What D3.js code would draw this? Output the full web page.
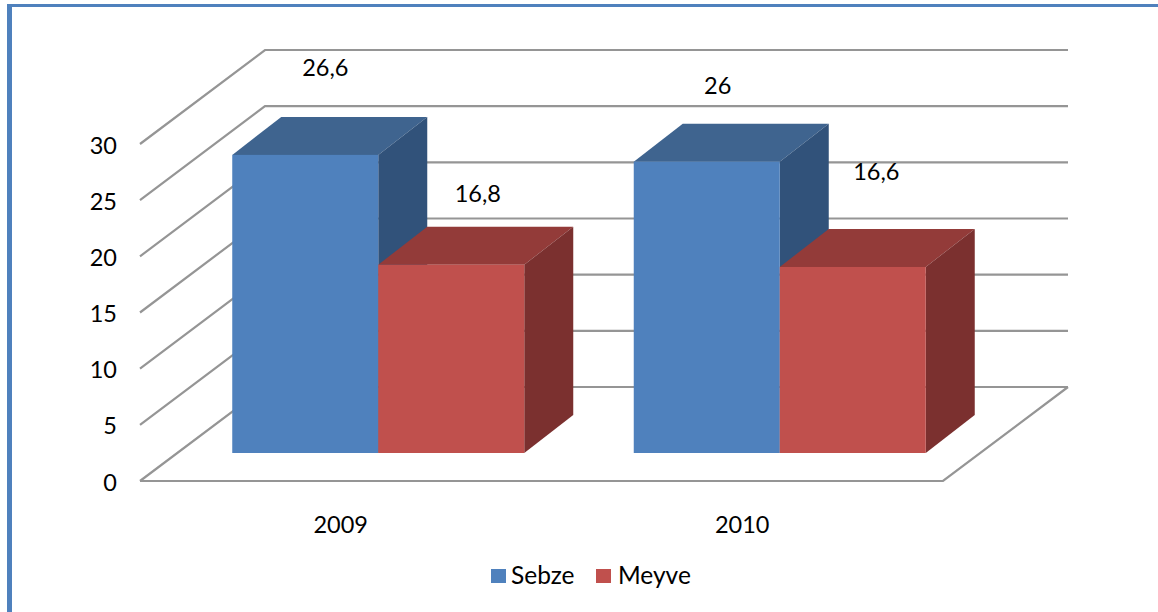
<!DOCTYPE html>
<html><head><meta charset="utf-8">
<script src="https://cdnjs.cloudflare.com/ajax/libs/d3/7.8.5/d3.min.js"></script>
<style>html,body{margin:0;padding:0;background:#fff}svg{display:block}text{font-family:Lato,"Open Sans",sans-serif;fill:#000}</style>
</head><body><div id="chart"></div>
<script>
const categories = ["2009", "2010"];
const seriesNames = ["Sebze", "Meyve"];
const sebze = [26.6, 26];
const meyve = [16.8, 16.6];
const valueLabels = [["26,6", "26"], ["16,8", "16,6"]];
const yTicks = [0, 5, 10, 15, 20, 25, 30];

const W = 1158, H = 612;
const svg = d3.select("#chart").append("svg").attr("width", W).attr("height", H);

const colors = {
  Sebze: {front: "#4F81BD", top: "#3F648F", side: "#31527A"},
  Meyve: {front: "#C0504D", top: "#933B39", side: "#7B302F"}
};

// outer frame (top and left rule)
svg.append("rect").attr("x", 7).attr("y", 4).attr("width", W - 7).attr("height", 3).attr("fill", "#4F81BD");
svg.append("rect").attr("x", 7).attr("y", 4).attr("width", 5).attr("height", H - 4).attr("fill", "#4F81BD");

// scales
const y = d3.scaleLinear().domain([0, 30]).range([481, 144]);
const yBar = d3.scaleLinear().domain([0, 30]).range([453, 116.8]);
const x = d3.scaleBand().domain(categories).range([140, 943]);
const wall = {dx: 125, dy: -94};      // front plane -> back wall
const baseDx = 37.5;                  // front plane -> bar front plane
const depth = {dx: 49, dy: -38};      // bar depth
const barW = 146;

// grid
const grid = svg.append("g").attr("fill", "none").attr("stroke", "#959595").attr("stroke-width", 2.2);
yTicks.forEach(t => {
  const p = d3.path();
  p.moveTo(x.range()[0], y(t));
  p.lineTo(x.range()[0] + wall.dx, y(t) + wall.dy);
  p.lineTo(x.range()[1] + wall.dx, y(t) + wall.dy);
  grid.append("path").attr("d", p.toString());
});
const floor = d3.path();
floor.moveTo(x.range()[0], y(0));
floor.lineTo(x.range()[1], y(0));
floor.lineTo(x.range()[1] + wall.dx, y(0) + wall.dy);
grid.append("path").attr("d", floor.toString());

// axis labels
svg.append("g").selectAll("text").data(yTicks).join("text")
  .attr("x", 117).attr("y", d => y(d) + 9.5)
  .attr("text-anchor", "end").attr("font-size", 23.5).text(d => d);
svg.append("g").selectAll("text").data(categories).join("text")
  .attr("x", d => x(d) + x.bandwidth() / 2).attr("y", 532.5)
  .attr("text-anchor", "middle").attr("font-size", 23.5).text(d => d);

// bars
const nudges = [[[20, -88], [11, -77]], [[26.5, -72], [23.5, -96]]];
const series = [sebze, meyve];
const bars = [];
categories.forEach((c, ci) => {
  series.forEach((vals, si) => bars.push({ci, si, c, v: vals[ci]}));
});
bars.forEach(b => {
  const col = colors[seriesNames[b.si]];
  const cx = x(b.c) + x.bandwidth() / 2 + baseDx;
  const x0 = cx + (b.si - 1) * barW;
  const x1 = x0 + barW;
  const yT = yBar(b.v);
  const yB = yBar(0);
  const g = svg.append("g");
  g.append("polygon").attr("fill", col.top).attr("points", [
    [x0, yT], [x1, yT], [x1 + depth.dx, yT + depth.dy], [x0 + depth.dx, yT + depth.dy]
  ].join(" "));
  g.append("polygon").attr("fill", col.side).attr("points", [
    [x1, yT], [x1 + depth.dx, yT + depth.dy], [x1 + depth.dx, yB + depth.dy], [x1, yB]
  ].join(" "));
  g.append("rect").attr("x", x0).attr("y", yT).attr("width", barW).attr("height", yB - yT).attr("fill", col.front);
  b.lx = (x0 + x1) / 2 + nudges[b.si][b.ci][0];
  b.ly = yT + nudges[b.si][b.ci][1];
});
svg.append("g").selectAll("text").data(bars).join("text")
  .attr("x", d => d.lx).attr("y", d => d.ly + 9)
  .attr("text-anchor", "middle").attr("font-size", 23.5)
  .text(d => valueLabels[d.si][d.ci]);

// legend
const legX = d3.scaleOrdinal().domain(seriesNames).range([491, 596]);
const leg = svg.append("g").selectAll("g").data(seriesNames).join("g")
  .attr("transform", d => `translate(${legX(d)},569)`);
leg.append("rect").attr("width", 15).attr("height", 14).attr("fill", d => colors[d].front);
leg.append("text").attr("x", d => d === "Sebze" ? 20 : 22).attr("y", 15).attr("font-size", 24.5).text(d => d);
</script></body></html>
